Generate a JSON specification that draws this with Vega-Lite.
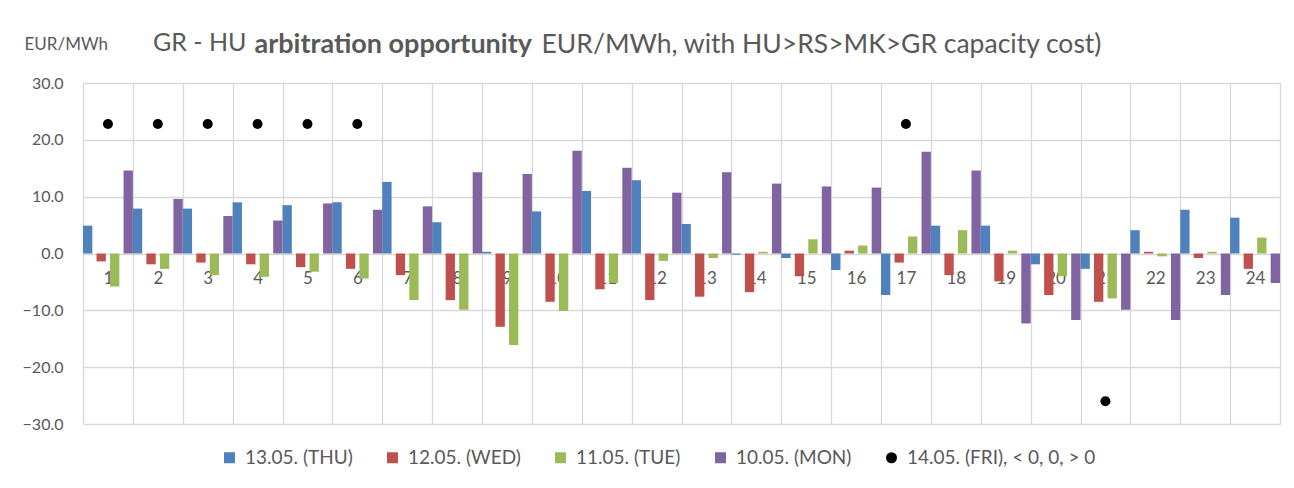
{
  "$schema": "https://vega.github.io/schema/vega-lite/v6.json",
  "width": 1197,
  "height": 341,
  "autosize": {"type": "none"},
  "padding": {"top": 83, "left": 83, "right": 14, "bottom": 64},
  "background": "white",
  "config": {
    "font": "Lato",
    "view": {"stroke": null},
    "axis": {"labelFont": "Lato", "labelColor": "#595959", "labelFontSize": 16, "gridColor": "#d9d9d9", "gridWidth": 1.3, "domain": false, "ticks": false, "titleFont": "Lato", "titleColor": "#595959"},
    "legend": {"labelFont": "Lato", "labelFontSize": 19, "labelColor": "#595959", "labelLimit": 0}
  },
  "title": {
    "text": "GR - HU",
    "anchor": "start",
    "frame": "group",
    "dx": 70,
    "offset": -46,
    "baseline": "alphabetic",
    "font": "Lato",
    "fontSize": 25,
    "fontWeight": "normal",
    "color": "#595959"
  },
  "resolve": {"axis": {"y": "independent"}},
  "datasets": {
    "bars": [
      {"hour": 1, "series": "13.05. (THU)", "value": 4.9},
      {"hour": 2, "series": "13.05. (THU)", "value": 7.9},
      {"hour": 3, "series": "13.05. (THU)", "value": 7.9},
      {"hour": 4, "series": "13.05. (THU)", "value": 9.0},
      {"hour": 5, "series": "13.05. (THU)", "value": 8.5},
      {"hour": 6, "series": "13.05. (THU)", "value": 9.0},
      {"hour": 7, "series": "13.05. (THU)", "value": 12.6},
      {"hour": 8, "series": "13.05. (THU)", "value": 5.5},
      {"hour": 9, "series": "13.05. (THU)", "value": 0.3},
      {"hour": 10, "series": "13.05. (THU)", "value": 7.4},
      {"hour": 11, "series": "13.05. (THU)", "value": 11.0},
      {"hour": 12, "series": "13.05. (THU)", "value": 12.9},
      {"hour": 13, "series": "13.05. (THU)", "value": 5.2},
      {"hour": 14, "series": "13.05. (THU)", "value": -0.2},
      {"hour": 15, "series": "13.05. (THU)", "value": -0.8},
      {"hour": 16, "series": "13.05. (THU)", "value": -2.9},
      {"hour": 17, "series": "13.05. (THU)", "value": -7.3},
      {"hour": 18, "series": "13.05. (THU)", "value": 4.9},
      {"hour": 19, "series": "13.05. (THU)", "value": 4.9},
      {"hour": 20, "series": "13.05. (THU)", "value": -1.9},
      {"hour": 21, "series": "13.05. (THU)", "value": -2.7},
      {"hour": 22, "series": "13.05. (THU)", "value": 4.1},
      {"hour": 23, "series": "13.05. (THU)", "value": 7.7},
      {"hour": 24, "series": "13.05. (THU)", "value": 6.3},
      {"hour": 1, "series": "12.05. (WED)", "value": -1.4},
      {"hour": 2, "series": "12.05. (WED)", "value": -1.9},
      {"hour": 3, "series": "12.05. (WED)", "value": -1.6},
      {"hour": 4, "series": "12.05. (WED)", "value": -1.9},
      {"hour": 5, "series": "12.05. (WED)", "value": -2.4},
      {"hour": 6, "series": "12.05. (WED)", "value": -2.7},
      {"hour": 7, "series": "12.05. (WED)", "value": -3.8},
      {"hour": 8, "series": "12.05. (WED)", "value": -8.2},
      {"hour": 9, "series": "12.05. (WED)", "value": -12.9},
      {"hour": 10, "series": "12.05. (WED)", "value": -8.5},
      {"hour": 11, "series": "12.05. (WED)", "value": -6.3},
      {"hour": 12, "series": "12.05. (WED)", "value": -8.2},
      {"hour": 13, "series": "12.05. (WED)", "value": -7.6},
      {"hour": 14, "series": "12.05. (WED)", "value": -6.8},
      {"hour": 15, "series": "12.05. (WED)", "value": -4.0},
      {"hour": 16, "series": "12.05. (WED)", "value": 0.5},
      {"hour": 17, "series": "12.05. (WED)", "value": -1.6},
      {"hour": 18, "series": "12.05. (WED)", "value": -3.8},
      {"hour": 19, "series": "12.05. (WED)", "value": -4.9},
      {"hour": 20, "series": "12.05. (WED)", "value": -7.3},
      {"hour": 21, "series": "12.05. (WED)", "value": -8.5},
      {"hour": 22, "series": "12.05. (WED)", "value": 0.3},
      {"hour": 23, "series": "12.05. (WED)", "value": -0.8},
      {"hour": 24, "series": "12.05. (WED)", "value": -2.7},
      {"hour": 1, "series": "11.05. (TUE)", "value": -5.8},
      {"hour": 2, "series": "11.05. (TUE)", "value": -2.7},
      {"hour": 3, "series": "11.05. (TUE)", "value": -3.8},
      {"hour": 4, "series": "11.05. (TUE)", "value": -4.1},
      {"hour": 5, "series": "11.05. (TUE)", "value": -3.2},
      {"hour": 6, "series": "11.05. (TUE)", "value": -4.4},
      {"hour": 7, "series": "11.05. (TUE)", "value": -8.2},
      {"hour": 8, "series": "11.05. (TUE)", "value": -9.9},
      {"hour": 9, "series": "11.05. (TUE)", "value": -16.1},
      {"hour": 10, "series": "11.05. (TUE)", "value": -10.1},
      {"hour": 11, "series": "11.05. (TUE)", "value": -5.2},
      {"hour": 12, "series": "11.05. (TUE)", "value": -1.3},
      {"hour": 13, "series": "11.05. (TUE)", "value": -0.8},
      {"hour": 14, "series": "11.05. (TUE)", "value": 0.3},
      {"hour": 15, "series": "11.05. (TUE)", "value": 2.5},
      {"hour": 16, "series": "11.05. (TUE)", "value": 1.4},
      {"hour": 17, "series": "11.05. (TUE)", "value": 3.0},
      {"hour": 18, "series": "11.05. (TUE)", "value": 4.1},
      {"hour": 19, "series": "11.05. (TUE)", "value": 0.5},
      {"hour": 20, "series": "11.05. (TUE)", "value": -4.0},
      {"hour": 21, "series": "11.05. (TUE)", "value": -7.9},
      {"hour": 22, "series": "11.05. (TUE)", "value": -0.5},
      {"hour": 23, "series": "11.05. (TUE)", "value": 0.3},
      {"hour": 24, "series": "11.05. (TUE)", "value": 2.8},
      {"hour": 1, "series": "10.05. (MON)", "value": 14.6},
      {"hour": 2, "series": "10.05. (MON)", "value": 9.6},
      {"hour": 3, "series": "10.05. (MON)", "value": 6.6},
      {"hour": 4, "series": "10.05. (MON)", "value": 5.8},
      {"hour": 5, "series": "10.05. (MON)", "value": 8.8},
      {"hour": 6, "series": "10.05. (MON)", "value": 7.7},
      {"hour": 7, "series": "10.05. (MON)", "value": 8.3},
      {"hour": 8, "series": "10.05. (MON)", "value": 14.3},
      {"hour": 9, "series": "10.05. (MON)", "value": 14.0},
      {"hour": 10, "series": "10.05. (MON)", "value": 18.1},
      {"hour": 11, "series": "10.05. (MON)", "value": 15.1},
      {"hour": 12, "series": "10.05. (MON)", "value": 10.7},
      {"hour": 13, "series": "10.05. (MON)", "value": 14.3},
      {"hour": 14, "series": "10.05. (MON)", "value": 12.3},
      {"hour": 15, "series": "10.05. (MON)", "value": 11.8},
      {"hour": 16, "series": "10.05. (MON)", "value": 11.6},
      {"hour": 17, "series": "10.05. (MON)", "value": 17.9},
      {"hour": 18, "series": "10.05. (MON)", "value": 14.6},
      {"hour": 19, "series": "10.05. (MON)", "value": -12.3},
      {"hour": 20, "series": "10.05. (MON)", "value": -11.7},
      {"hour": 21, "series": "10.05. (MON)", "value": -9.9},
      {"hour": 22, "series": "10.05. (MON)", "value": -11.7},
      {"hour": 23, "series": "10.05. (MON)", "value": -7.3},
      {"hour": 24, "series": "10.05. (MON)", "value": -5.2}
    ],
    "dots": [
      {"hour": 1, "series": "14.05. (FRI), < 0, 0, > 0", "value": 22.8},
      {"hour": 2, "series": "14.05. (FRI), < 0, 0, > 0", "value": 22.8},
      {"hour": 3, "series": "14.05. (FRI), < 0, 0, > 0", "value": 22.8},
      {"hour": 4, "series": "14.05. (FRI), < 0, 0, > 0", "value": 22.8},
      {"hour": 5, "series": "14.05. (FRI), < 0, 0, > 0", "value": 22.8},
      {"hour": 6, "series": "14.05. (FRI), < 0, 0, > 0", "value": 22.8},
      {"hour": 17, "series": "14.05. (FRI), < 0, 0, > 0", "value": 22.8},
      {"hour": 21, "series": "14.05. (FRI), < 0, 0, > 0", "value": -26.0}
    ]
  },
  "layer": [
    {
      "data": {"name": "bars"},
      "mark": {"type": "bar"},
      "encoding": {
        "x": {
          "field": "hour", "type": "ordinal",
          "scale": {"paddingInner": 0, "paddingOuter": 0},
          "axis": {
            "orient": "bottom", "offset": -170.4, "tickBand": "extent", "grid": true, "labelAngle": 0, "labelPadding": 17, "labelBaseline": "top", "labelFontSize": 17,
            "title": "arbitration opportunity", "titleFontSize": 27, "titleFontWeight": "bold", "titleX": 171, "titleY": -201.6, "titleAlign": "left", "titleBaseline": "alphabetic", "titleAnchor": null
          }
        },
        "xOffset": {
          "field": "series", "type": "nominal",
          "sort": ["13.05. (THU)", "12.05. (WED)", "11.05. (TUE)", "10.05. (MON)"],
          "scale": {"domain": ["13.05. (THU)", "12.05. (WED)", "11.05. (TUE)", "10.05. (MON)"], "paddingInner": 0.31, "paddingOuter": 0}
        },
        "y": {
          "field": "value", "type": "quantitative",
          "scale": {"domain": [-30, 30], "nice": false},
          "axis": {
            "orient": "left",
            "values": [-30, -20, -10, 0, 10, 20, 30], "format": ".1f", "labelPadding": 20,
            "title": "EUR/MWh", "titleAngle": 0, "titleX": -59, "titleY": -39, "titleAlign": "left", "titleBaseline": "middle",
            "titleFontSize": 17, "titleFontWeight": "normal"
          }
        },
        "color": {
          "field": "series", "type": "nominal",
          "scale": {
            "domain": ["13.05. (THU)", "12.05. (WED)", "11.05. (TUE)", "10.05. (MON)", "14.05. (FRI), < 0, 0, > 0"],
            "range": ["#4F81BD", "#C0504D", "#9BBB59", "#8064A2", "#000000"]
          },
          "legend": {"title": null, "orient": "none", "direction": "horizontal", "columns": 5, "legendX": 137, "legendY": 365, "columnPadding": 30, "labelOffset": 6, "symbolSize": 121}
        }
      }
    },
    {
      "data": {"name": "dots"},
      "mark": {"type": "point", "filled": true, "opacity": 1, "size": 100},
      "encoding": {
        "x": {"field": "hour", "type": "ordinal"},
        "y": {
          "field": "value", "type": "quantitative",
          "axis": {
            "orient": "right", "labels": false, "grid": false, "ticks": false, "domain": false,
            "title": "EUR/MWh, with HU>RS>MK>GR capacity cost)", "titleAngle": 0, "titleX": -739, "titleY": -31, "titleAlign": "left", "titleBaseline": "alphabetic",
            "titleFontSize": 26.5, "titleFontWeight": "normal", "titleAnchor": null
          }
        },
        "color": {"field": "series", "type": "nominal"},
        "shape": {
          "field": "series", "type": "nominal",
          "scale": {
            "domain": ["13.05. (THU)", "12.05. (WED)", "11.05. (TUE)", "10.05. (MON)", "14.05. (FRI), < 0, 0, > 0"],
            "range": ["square", "square", "square", "square", "circle"]
          },
          "legend": {"title": null}
        }
      }
    }
  ]
}
